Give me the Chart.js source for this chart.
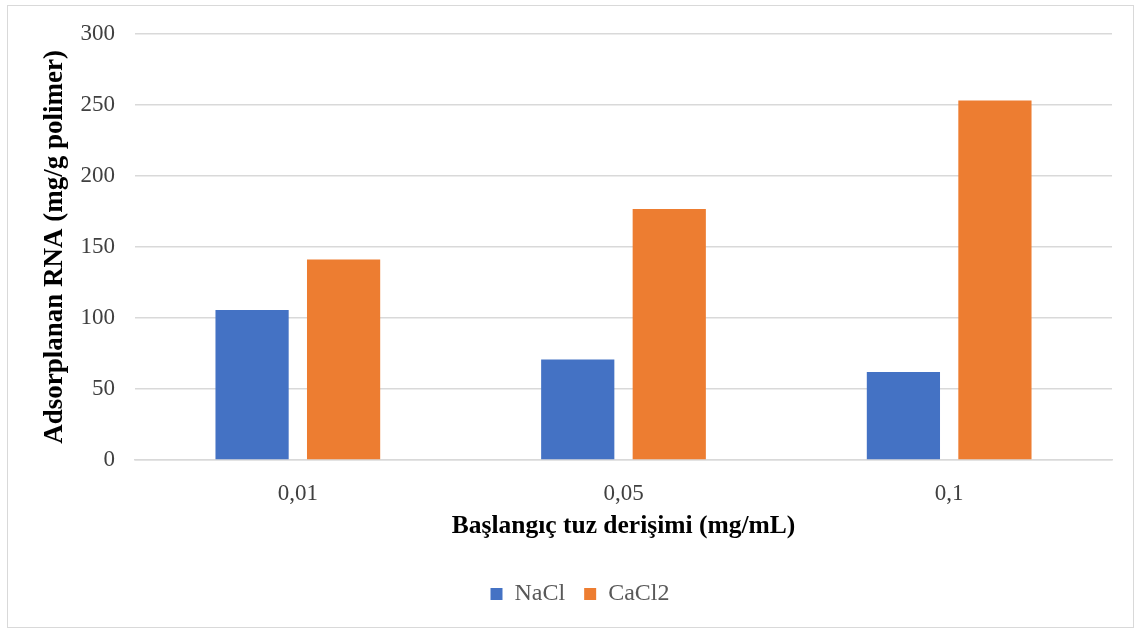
<!DOCTYPE html>
<html>
<head>
<meta charset="utf-8">
<script src="https://cdn.jsdelivr.net/npm/chart.js@4.4.1/dist/chart.umd.min.js"></script>
<style>
html,body{margin:0;padding:0;background:#fff;}
#wrap{position:absolute;left:0;top:0;width:1135px;height:633px;}
</style>
</head>
<body>
<div id="wrap"><canvas id="c" width="1135" height="633"></canvas></div>
<script>
const categories = ["0,01", "0,05", "0,1"];
const naclValues = [105.5, 70.8, 62.0];
const cacl2Values = [141.2, 176.7, 253.0];
const seriesNames = ["NaCl", "CaCl2"];
const yTickMin = 0, yTickMax = 300, yTickStep = 50;
const yTitle = "Adsorplanan RNA (mg/g polimer)";
const xTitle = "Başlangıç tuz derişimi (mg/mL)";

const FONT = "'Liberation Serif', 'Times New Roman', serif";

const borderPlugin = {
  id: 'outerBorder',
  beforeDraw(chart) {
    const ctx = chart.ctx;
    ctx.save();
    ctx.fillStyle = '#fff';
    ctx.fillRect(0, 0, chart.width, chart.height);
    ctx.strokeStyle = '#d9d9d9';
    ctx.lineWidth = 1;
    ctx.strokeRect(7.5, 5.5, 1126, 622);
    ctx.restore();
  },
  afterLayout(chart) {
    if (chart.legend) {
      chart.legend.left += 19;
      chart.legend.right += 19;
    }
  }
};

new Chart(document.getElementById('c'), {
  type: 'bar',
  data: {
    labels: categories,
    datasets: [
      { label: seriesNames[0], data: naclValues, backgroundColor: '#4472C4', borderWidth: 0 },
      { label: seriesNames[1], data: cacl2Values, backgroundColor: '#ED7D31', borderWidth: 0 }
    ]
  },
  options: {
    responsive: false,
    animation: false,
    devicePixelRatio: 1,
    layout: { padding: { left: 10, right: 23, top: 33, bottom: 17 } },
    datasets: { bar: { categoryPercentage: 0.562, barPercentage: 0.8 } },
    plugins: {
      legend: {
        position: 'bottom',
        labels: {
          font: { family: FONT, size: 24 },
          color: '#595959',
          boxWidth: 12, boxHeight: 12,
          padding: 19
        }
      },
      tooltip: { enabled: false }
    },
    scales: {
      x: {
        grid: { display: false, drawTicks: false },
        border: { display: true, color: '#d9d9d9', width: 1.5 },
        ticks: { font: { family: FONT, size: 23 }, color: '#404040', padding: 20 },
        title: { display: true, text: xTitle, font: { family: FONT, size: 25.5, weight: 'bold' }, color: '#000', padding: { top: 0, bottom: 21 } },
        afterFit(s) { s.height = 103; }
      },
      y: {
        min: yTickMin, max: yTickMax,
        grid: { color: '#d9d9d9', lineWidth: 1.5, drawTicks: false },
        border: { display: false },
        ticks: { stepSize: yTickStep, font: { family: FONT, size: 23 }, color: '#404040', padding: 20 },
        title: { display: true, text: yTitle, font: { family: FONT, size: 27, weight: 'bold' }, color: '#000', padding: { top: 29, bottom: 0 } },
        afterFit(s) { s.width = 125; }
      }
    }
  },
  plugins: [borderPlugin]
});
</script>
</body>
</html>
